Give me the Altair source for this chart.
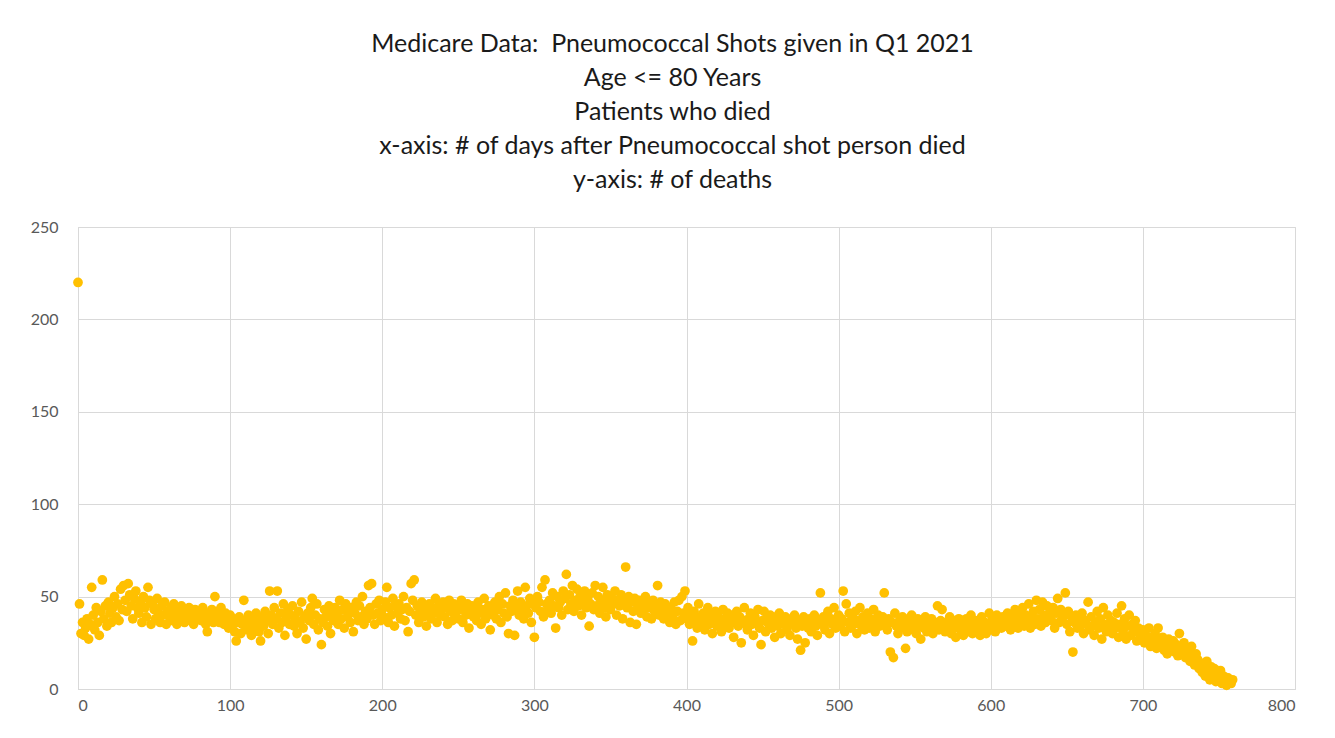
import altair as alt
import pandas as pd

# deaths per day after the shot (days 0..759)
deaths_000_199 = [
    220, 46, 30, 36, 29, 33, 38, 27, 35, 55,
    40, 32, 44, 36, 29, 42, 59, 38, 45, 34,
    47, 41, 36, 44, 50, 39, 46, 37, 54, 43,
    56, 48, 42, 57, 51, 45, 38, 49, 53, 44,
    41, 47, 36, 50, 44, 39, 55, 48, 35, 46,
    43, 38, 49, 41, 36, 45, 40, 47, 35, 42,
    39, 44, 37, 46, 41, 35, 43, 38, 45, 40,
    36, 42, 39, 44, 37, 41, 35, 43, 38, 40,
    42, 37, 44, 39, 35, 31, 41, 38, 43, 36,
    50, 39, 42, 36, 44, 38, 35, 41, 37, 33,
    40, 34, 38, 31, 26, 36, 39, 30, 35, 48,
    37, 32, 40, 35, 29, 38, 33, 41, 36, 31,
    26, 39, 34, 42, 37, 30, 53, 40, 35, 44,
    38, 53, 33, 41, 36, 46, 29, 39, 43, 35,
    40, 45, 34, 38, 30, 42, 36, 47, 33, 39,
    27, 41, 37, 44, 49, 35, 40, 46, 32, 38,
    24, 36, 43, 39, 34, 45, 30, 41, 37, 44,
    40, 35, 48, 38, 43, 33, 46, 39, 42, 36,
    44, 31, 41, 47, 37, 45, 39, 50, 35, 42,
    38, 56, 44, 57, 40, 35, 46, 41, 48, 37,
]
deaths_200_399 = [
    43, 39, 47, 55, 36, 44, 40, 49, 34, 45,
    41, 46, 38, 43, 50, 37, 44, 31, 42, 57,
    48, 59, 40, 45, 36, 43, 47, 39, 44, 34,
    42, 46, 38, 44, 41, 49, 36, 45, 40, 43,
    47, 39, 44, 35, 48, 42, 37, 46, 41, 45,
    38, 43, 48, 36, 44, 40, 46, 33, 42, 45,
    39, 44, 37, 47, 41, 35, 43, 49, 38, 42,
    45, 32, 44, 40, 47, 38, 43, 50, 36, 46,
    41, 52, 39, 30, 45, 42, 48, 29, 44, 53,
    40, 47, 43, 38, 55, 45, 41, 49, 36, 46,
    28, 44, 50, 47, 42, 55, 39, 59, 46, 43,
    48, 41, 52, 45, 33, 50, 44, 47, 40, 53,
    49, 62, 43, 51, 46, 56, 42, 48, 54, 45,
    50, 40, 47, 53, 44, 49, 34, 46, 52, 43,
    56, 45, 50, 41, 48, 55, 44, 39, 51, 47,
    43, 49, 46, 53, 40, 48, 45, 51, 38, 47,
    66, 44, 50, 36, 47, 42, 49, 35, 45, 48,
    41, 46, 43, 50, 39, 47, 44, 38, 48, 42,
    45, 56, 40, 47, 43, 38, 46, 41, 44, 36,
    43, 39, 47, 35, 42, 48, 37, 50, 41, 53,
]
deaths_400_599 = [
    38, 44, 35, 40, 26, 42, 37, 33, 46, 39,
    36, 41, 32, 38, 44, 35, 40, 30, 37, 42,
    34, 39, 36, 31, 43, 38, 35, 41, 33, 37,
    40, 28, 36, 42, 34, 39, 25, 37, 44, 35,
    32, 38, 41, 35, 29, 39, 36, 43, 33, 24,
    37, 42, 31, 38, 35, 40, 33, 36, 28, 39,
    34, 41, 30, 37, 35, 39, 32, 36, 29, 38,
    35, 40, 33, 27, 37, 21, 34, 39, 25, 36,
    33, 38, 31, 36, 40, 34, 29, 37, 52, 35,
    39, 32, 36, 42, 30, 38, 35, 44, 33, 37,
    40, 34, 38, 53, 31, 46, 36, 41, 33, 39,
    35, 42, 30, 37, 44, 34, 39, 32, 36, 41,
    33, 38, 35, 43, 31, 37, 40, 34, 36, 39,
    52, 35, 32, 38, 20, 36, 17, 41, 34, 30,
    37, 33, 39, 35, 22, 31, 38, 34, 40, 32,
    36, 30, 38, 34, 27, 37, 33, 39, 31, 35,
    34, 38, 30, 36, 33, 45, 32, 37, 43, 35,
    31, 36, 34, 39, 30, 37, 33, 28, 35, 38,
    32, 36, 29, 34, 38, 31, 35, 40, 30, 33,
    37, 31, 35, 29, 39, 33, 36, 30, 34, 41,
]
deaths_600_759 = [
    32, 38, 35, 31, 40, 34, 37, 33, 39, 36,
    34, 41, 37, 32, 39, 35, 43, 38, 33, 40,
    37, 44, 34, 40, 36, 46, 33, 39, 42, 35,
    48, 38, 43, 34, 47, 40, 36, 45, 39, 42,
    37, 44, 33, 41, 49, 36, 43, 38, 40, 52,
    35, 42, 31, 39, 20, 36, 40, 33, 38, 34,
    41, 30, 37, 35, 47, 32, 39, 34, 29, 36,
    42, 33, 38, 27, 44, 35, 31, 40, 34, 37,
    30, 36, 33, 41, 28, 35, 45, 31, 38, 27,
    34, 40, 29, 35, 31, 37, 26, 33, 30, 28,
    32, 25, 29, 27, 33, 23, 28, 25, 30, 22,
    33, 26, 24, 28, 21, 25, 19, 27, 23, 22,
    26, 20, 24, 18, 30, 22, 19, 25, 17, 21,
    20, 15, 23, 18, 13, 19, 16, 11, 14, 9,
    12, 7, 15, 10, 5, 12, 8, 11, 4, 9,
    6, 10, 3, 7, 5, 2, 6, 4, 3, 5,
]

title_lines = [
    "Medicare Data:\u00a0 Pneumococcal Shots given in Q1 2021",
    "Age <= 80 Years",
    "Patients who died",
    "x-axis: # of days after Pneumococcal shot person died",
    "y-axis: # of deaths",
]

deaths = deaths_000_199 + deaths_200_399 + deaths_400_599 + deaths_600_759
df = pd.DataFrame({"day": list(range(len(deaths))), "deaths": deaths})

FONT = "Lato"
GRID = "#D9D9D9"

chart = (
    alt.Chart(df)
    .mark_circle(size=95, color="#FFC000", opacity=1)
    .encode(
        x=alt.X(
            "day:Q",
            scale=alt.Scale(domain=[0, 800], nice=False, zero=True),
            axis=alt.Axis(
                values=[0, 100, 200, 300, 400, 500, 600, 700, 800],
                title=None,
                grid=True,
                gridColor=GRID,
                domainColor=GRID,
                ticks=False,
                labelPadding=8,
                labelFontSize=16,
                labelColor="#595959",
                labelFont=FONT,
            ),
        ),
        y=alt.Y(
            "deaths:Q",
            scale=alt.Scale(domain=[0, 250], nice=False),
            axis=alt.Axis(
                values=[0, 50, 100, 150, 200, 250],
                title=None,
                grid=True,
                gridColor=GRID,
                domainColor=GRID,
                ticks=False,
                labelPadding=20,
                labelFontSize=16,
                labelColor="#595959",
                labelFont=FONT,
            ),
        ),
    )
    .properties(
        width=1217,
        height=462,
        padding={"left": 70, "top": 219, "right": 30, "bottom": 30},
        autosize=alt.AutoSizeParams(type="none"),
        title=alt.TitleParams(
            text=title_lines,
            anchor="middle",
            font=FONT,
            fontSize=25,
            fontWeight="normal",
            color="#1a1a1a",
            lineHeight=34,
            offset=26,
            dx=-14,
        ),
    )
    .configure_view(stroke=GRID)
)

chart.save("out.html", embed_options={"renderer": "svg", "actions": False})
